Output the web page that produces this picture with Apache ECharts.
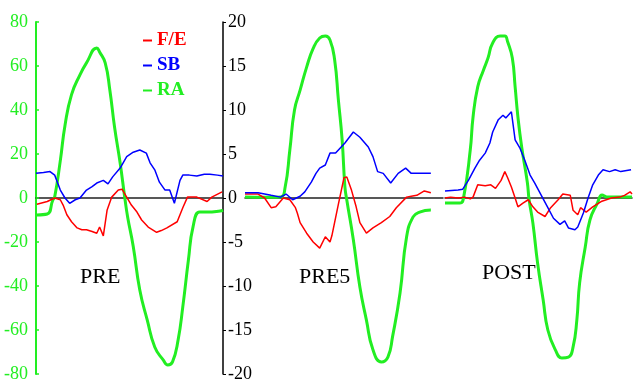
<!DOCTYPE html>
<html>
<head>
<meta charset="utf-8">
<script src="https://cdn.jsdelivr.net/npm/echarts@6/dist/echarts.min.js"></script>
<style>
    html, body { margin: 0; padding: 0; background: #fff; }
    #main { width: 633px; height: 383px; }
</style>
</head>
<body>
<div id="main"></div>
<script>
// panel names, and ticks of the two y axes
var panels = ['PRE', 'PRE5', 'POST'];
var raTicks = [-80, 80, 20];   // min, max, interval (RA, left axis)
var feTicks = [-20, 20, 5];    // min, max, interval (F/E + SB, middle axis)

// [time %, value]  F/E and SB read on the -20..20 axis, RA on the -80..80 axis
var pre_fe = [[0.5,-0.7],[6,-0.4],[10,0],[13,-0.2],[14.5,-0.8],[16.5,-1.9],[19,-2.7],[22,-3.4],[24.5,-3.6],[27,-3.6],[30,-3.8],[32.5,-4.0],[34,-3.3],[36,-4.3],[38,-1.4],[40.5,0.1],[44,0.9],[46,1.0],[48.5,0.1],[51,-0.8],[54,-1.6],[56.5,-2.5],[60,-3.3],[64.5,-3.9],[65,-4.1],[67,-3.7],[70,-3.4],[75.5,-2.7],[78.5,-1.1],[81,0.1],[86,0.1],[91.5,-0.4],[94,0.1],[99.5,0.7]];
var pre_sb = [[0,2.8],[4,2.9],[7.5,3.0],[10,2.6],[13,0.9],[15.5,0],[18,-0.6],[21,-0.2],[23.5,0],[27,0.9],[30,1.3],[32.5,1.7],[36,2.0],[38.5,1.6],[41,2.4],[45,3.4],[48.5,4.7],[52,5.2],[55.5,5.45],[59,5.1],[61,4.0],[63.5,3.2],[66,1.8],[69,0.9],[71.5,0.9],[74,-0.6],[77,2.0],[78.5,2.6],[82,2.6],[86,2.5],[90,2.7],[93,2.7],[97,2.6],[100,2.5]];
var pre_ra = [[0.5,-7.7],[6,-7.3],[9,-0.9],[10,0.5],[13,17],[15.5,33],[19,47],[23.5,56],[27,61.4],[32.5,68.2],[34,66.4],[37,61.4],[39.5,49],[42,32.3],[45,15.9],[47.5,0],[49,-8.6],[52,-22],[55.5,-41.8],[59.5,-55.5],[63.5,-67.7],[68,-73.6],[70.5,-75.9],[73,-74.5],[76,-64.5],[78.5,-49.5],[81.5,-28.2],[84,-13],[87.5,-6.4],[91.5,-6.4],[98.5,-5.9],[100,-5.5]];

var pre5_fe = [[0,0.45],[7,0.45],[10.5,0],[14,-1.1],[16.5,-1.0],[20.5,0],[24,-0.2],[27,-1.1],[28,-1.7],[29.5,-2.8],[33,-4.0],[36.5,-5.0],[40,-5.7],[43,-4.4],[45.5,-5.0],[46.5,-4.3],[50,-0.7],[53,2.3],[54.5,2.4],[57,0.9],[59.5,-1.0],[61.5,-2.8],[65,-4.0],[68.5,-3.4],[73,-2.8],[77.5,-2.1],[81,-1.1],[86.5,0.1],[89,0.2],[92,0.3],[96,0.8],[99.5,0.6]];
var pre5_sb = [[0,0.6],[7,0.6],[14,0.3],[19,0.1],[22,0.45],[25.5,-0.2],[29.5,0.2],[32,0.7],[35.5,1.8],[38,2.8],[40,3.4],[43,3.75],[45.5,5.1],[48.5,5.1],[51.5,5.8],[53.5,6.25],[58,7.5],[61.5,6.9],[66,5.8],[68.5,4.7],[71,3.0],[74,2.8],[78,1.7],[82,2.8],[86,3.4],[89,2.8],[94,2.8],[99.5,2.8]];
var pre5_ra = [[0,0.5],[10,0.3],[19,0.5],[21.5,5],[24,21.8],[26.5,40],[29.5,49],[33,59.5],[36.5,68],[40,72.7],[43,73.6],[45.5,71.8],[48,62.7],[50,44.5],[52,26.4],[53.5,5],[54.5,-0.9],[58,-19],[61.5,-40.5],[65,-55.5],[68.5,-69],[73,-74.5],[76.5,-72.3],[79,-63],[83,-43.2],[86.5,-17.7],[90,-8.6],[93.5,-6.4],[99.5,-5.5]];

var post_fe = [[0,0],[3,0.1],[7,0],[10.5,0.1],[13.5,-0.1],[15,0.1],[17.5,1.5],[21.5,1.4],[24.5,1.5],[27,1.1],[30,2.0],[32,3.0],[33.5,2.3],[35.5,1.25],[37.5,0],[39,-1.0],[41.5,-0.6],[44.5,-0.2],[47,-1.0],[49.5,-1.6],[53.5,-2.1],[56.5,-1.1],[60.5,-0.2],[63,0.45],[67,0.3],[68.5,-1.4],[71,-1.9],[72.5,-1.1],[75.5,-1.6],[79,-1.0],[83.5,-0.4],[89,0],[93.5,0.1],[96,0.3],[99,0.7],[100,0.45]];
var post_sb = [[0,0.8],[7,0.9],[9.5,1.0],[12.5,2.0],[16,3.4],[18.5,4.3],[21.5,5.1],[24,6.25],[25.5,7.5],[28.5,8.9],[31,9.4],[32.5,9.1],[35.5,9.8],[37.5,6.6],[40,5.7],[43,4.1],[45.5,2.6],[48,1.7],[51.5,0.3],[55,-1.1],[58,-2.3],[61.5,-3.0],[64,-2.6],[66,-3.4],[69.5,-3.6],[71,-3.3],[74,-1.7],[76.5,0],[79,1.5],[82,2.6],[84.5,3.2],[88,3.0],[91,3.2],[94,3.0],[99.5,3.2]];
var post_ra = [[0,-2.3],[8,-2.3],[10,0.5],[13.5,21.8],[15,36.8],[17.5,50.5],[20.5,58],[23,63.6],[25.5,70.5],[29.5,73.6],[32,73.6],[33.5,71],[36,63.6],[37.5,50.5],[39,36.8],[41,23.2],[44,7.3],[45,-0.9],[47,-11.4],[49.5,-29.5],[52.5,-46.4],[55,-60],[59,-69],[62.5,-72.7],[66,-72.3],[68.5,-67.7],[70.5,-55.5],[72,-38.6],[75,-22.3],[77.5,-10],[81.5,-2.3],[84,1.4],[86.5,0.5],[93.5,0.5],[100,0.5]];

var RED = '#ff0000', BLUE = '#0000ff', GREEN = '#22ee22';
var FONT = 'Liberation Serif, Times New Roman, serif';

var myChart = echarts.init(document.getElementById('main'));

var panelData = [
    { fe: pre_fe, sb: pre_sb, ra: pre_ra },
    { fe: pre5_fe, sb: pre5_sb, ra: pre5_ra },
    { fe: post_fe, sb: post_sb, ra: post_ra }
];

var grids = [
    { left: 36, top: 22, width: 187, height: 352 },
    { left: 245, top: 22, width: 198, height: 352 },
    { left: 445, top: 22, width: 187, height: 352 }
];
var xMax = [100, 106, 100];

var xAxes = [], yAxes = [], series = [];
for (var i = 0; i < 3; i++) {
    xAxes.push({
        type: 'value', gridIndex: i, min: 0, max: xMax[i],
        axisLine: { show: true, onZero: true, lineStyle: { color: '#222', width: 1.5 } },
        axisTick: { show: false }, axisLabel: { show: false }, splitLine: { show: false }
    });
    // RA axis (only shown on the first panel)
    yAxes.push({
        type: 'value', gridIndex: i, min: raTicks[0], max: raTicks[1], interval: raTicks[2],
        show: i == 0,
        axisLine: { show: true, lineStyle: { color: GREEN, width: 2 } },
        axisTick: { show: true, inside: true, length: 3, lineStyle: { color: GREEN, width: 1.5 } },
        axisLabel: { color: GREEN, fontFamily: FONT, fontSize: 18, margin: 8 },
        splitLine: { show: false }
    });
    // F/E + SB axis (only shown between panel 1 and 2)
    yAxes.push({
        type: 'value', gridIndex: i, min: feTicks[0], max: feTicks[1], interval: feTicks[2],
        show: i == 1, position: 'left', offset: 22,
        axisLine: { show: true, lineStyle: { color: '#000', width: 1.5 } },
        axisTick: { show: true, inside: true, length: 3, lineStyle: { color: '#000' } },
        axisLabel: { inside: true, color: '#000', fontFamily: FONT, fontSize: 18, margin: 5 },
        splitLine: { show: false }
    });
    series.push({
        name: 'F/E', type: 'line', xAxisIndex: i, yAxisIndex: i * 2 + 1,
        data: panelData[i].fe, showSymbol: false,
        lineStyle: { color: RED, width: 1.5 }, itemStyle: { color: RED }, z: 3
    });
    series.push({
        name: 'SB', type: 'line', xAxisIndex: i, yAxisIndex: i * 2 + 1,
        data: panelData[i].sb, showSymbol: false,
        lineStyle: { color: BLUE, width: 1.5 }, itemStyle: { color: BLUE }, z: 3
    });
    series.push({
        name: 'RA', type: 'line', xAxisIndex: i, yAxisIndex: i * 2,
        data: panelData[i].ra, showSymbol: false, smooth: 0.5,
        lineStyle: { color: GREEN, width: 3 }, itemStyle: { color: GREEN }, z: 2
    });
}

var option = {
    animation: false,
    backgroundColor: '#fff',
    grid: grids,
    xAxis: xAxes,
    yAxis: yAxes,
    legend: {
        orient: 'vertical', left: 138, top: 26, itemWidth: 9, itemHeight: 2, itemGap: 6,
        icon: 'rect', selectedMode: false,
        textStyle: { fontFamily: FONT, fontSize: 19, fontWeight: 'bold' },
        data: [
            { name: 'F/E', textStyle: { color: RED } },
            { name: 'SB', textStyle: { color: BLUE } },
            { name: 'RA', textStyle: { color: GREEN } }
        ]
    },
    graphic: [
        { type: 'text', left: 80, top: 266, style: { text: panels[0], font: '22px ' + FONT, fill: '#000' } },
        { type: 'text', left: 299, top: 266, style: { text: panels[1], font: '22px ' + FONT, fill: '#000' } },
        { type: 'text', left: 482, top: 262, style: { text: panels[2], font: '22px ' + FONT, fill: '#000' } }
    ],
    series: series
};
myChart.setOption(option);
</script>
</body>
</html>
